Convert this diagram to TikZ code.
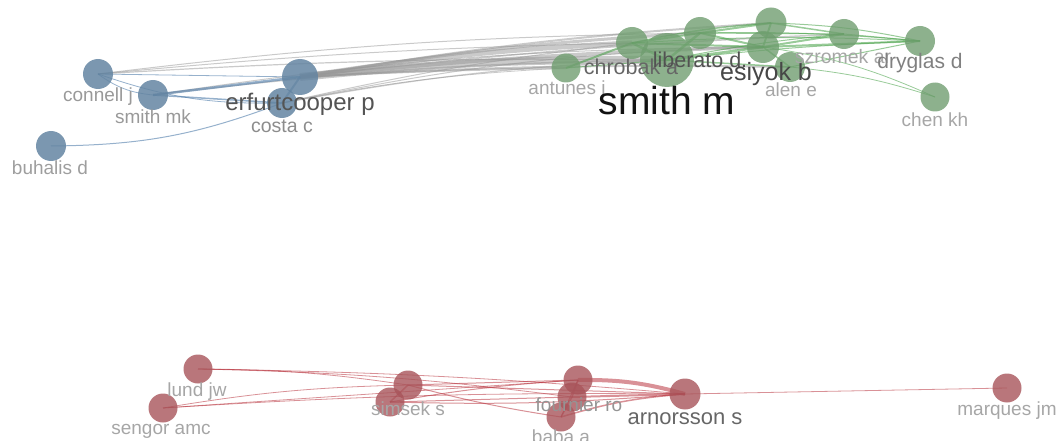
\documentclass[tikz,border=0pt]{standalone}
\usepackage{fontspec}
\setmainfont{Liberation Sans}
\definecolor{bluen}{RGB}{100,133,162}
\definecolor{greenn}{RGB}{112,158,112}
\definecolor{redn}{RGB}{168,84,90}
\definecolor{bluee}{RGB}{80,125,170}
\definecolor{greene}{RGB}{70,160,70}
\definecolor{rede}{RGB}{185,55,65}
\definecolor{graye}{RGB}{150,150,150}
\tikzset{
  bnode/.style={circle, fill=bluen, fill opacity=0.85, draw=none, inner sep=0pt, minimum size=#1},
  gnode/.style={circle, fill=greenn, fill opacity=0.8, draw=none, inner sep=0pt, minimum size=#1},
  rnode/.style={circle, fill=redn, fill opacity=0.8, draw=none, inner sep=0pt, minimum size=#1},
  lab/.style={inner sep=0pt, text=#1},
  ge/.style={draw=graye, draw opacity=0.5, line width=#1},
  gre/.style={draw=greene, draw opacity=0.55, line width=#1},
  re/.style={draw=rede, draw opacity=0.55, line width=#1},
  be/.style={draw=bluee, draw opacity=0.6, line width=#1},
}
\newcommand{\fs}[1]{\fontsize{#1}{#1}\selectfont}
\begin{document}
\begin{tikzpicture}[x=1pt,y=-1pt]
\useasboundingbox (0,0) rectangle (1063,441);
% ---------- node coordinates ----------
\coordinate (conn) at (98,74);
\coordinate (smk) at (153,95);
\coordinate (erf) at (300,77);
\coordinate (cos) at (282,103);
\coordinate (buh) at (51,146);
\coordinate (ant) at (566,68);
\coordinate (chr) at (632,43);
\coordinate (smm) at (667,60);
\coordinate (lib) at (700,33);
\coordinate (g5) at (771,23);
\coordinate (esi) at (763,47);
\coordinate (ale) at (790,67);
\coordinate (szr) at (844,34);
\coordinate (dry) at (920,41);
\coordinate (chen) at (935,97);
\coordinate (lund) at (198,369);
\coordinate (seng) at (163,408);
\coordinate (sim1) at (408,385);
\coordinate (sim2) at (390,402);
\coordinate (fou1) at (578,380);
\coordinate (fou2) at (572,397);
\coordinate (fou3) at (561,417);
\coordinate (arn) at (685,394);
\coordinate (mar) at (1007,388);
% ---------- gray inter-cluster edges ----------
\draw[ge=8] (erf) to[bend left=3] (smm);
\draw[ge=5] (erf) to[bend left=3] (chr);
\draw[ge=3.5] (erf) to[bend left=2] (esi);
\draw[ge=3] (erf) to[bend left=3] (lib);
\draw[ge=2] (erf) to[bend left=2] (ale);
\draw[ge=2] (erf) to[bend left=3] (g5);
\draw[ge=1.5] (erf) to[bend left=2] (szr);
\draw[ge=2] (erf) to[bend left=1] (ant);
\draw[ge=1] (conn) to[bend left=2] (chr);
\draw[ge=1] (conn) to[bend left=3] (lib);
\draw[ge=1.2] (conn) to[bend left=2] (smm);
\draw[ge=1.5] (smk) to[bend left=3] (smm);
\draw[ge=1] (smk) to[bend left=4] (esi);
\draw[ge=1.2] (cos) to[bend left=4] (smm);
\draw[ge=1] (cos) to[bend left=5] (esi);
\draw[ge=0.8] (cos) to[bend left=4] (ant);
\draw[ge=1] (cos) to[bend left=3] (chr);
% ---------- blue edges ----------
\draw[be=0.8] (conn) -- (erf);
\draw[be=0.8] (conn) to[bend right=10] (cos);
\draw[be=0.8] (conn) to[bend right=15] (smk);
\draw[be=2.5] (smk) -- (erf);
\draw[be=1.5] (smk) -- (cos);
\draw[be=2] (cos) -- (erf);
\draw[be=1] (buh) to[bend right=10] (cos);
% ---------- green edges ----------
\draw[gre=2] (ant) -- (chr);
\draw[gre=1] (ant) -- (smm);
\draw[gre=2.5] (chr) -- (smm);
\draw[gre=2] (chr) -- (lib);
\draw[gre=2] (chr) -- (esi);
\draw[gre=1.5] (chr) to[bend left=4] (g5);
\draw[gre=1] (chr) to[bend left=3] (dry);
\draw[gre=2.5] (smm) -- (lib);
\draw[gre=2.5] (smm) -- (esi);
\draw[gre=1.5] (smm) -- (ale);
\draw[gre=1] (smm) to[bend left=3] (szr);
\draw[gre=1] (smm) to[bend left=2] (dry);
\draw[gre=2] (lib) -- (g5);
\draw[gre=2] (lib) -- (esi);
\draw[gre=1] (lib) to[bend left=3] (dry);
\draw[gre=1] (lib) -- (szr);
\draw[gre=2] (g5) -- (esi);
\draw[gre=1.5] (g5) -- (szr);
\draw[gre=1] (g5) to[bend left=5] (dry);
\draw[gre=2] (esi) -- (szr);
\draw[gre=2] (esi) -- (dry);
\draw[gre=1.5] (esi) -- (ale);
\draw[gre=1] (ale) -- (dry);
\draw[gre=1] (szr) -- (dry);
\draw[gre=0.8] (esi) to[bend left=8] (chen);
\draw[gre=0.8] (ale) to[bend left=6] (chen);
% ---------- red edges ----------
\draw[re=0.8] (lund) to[bend left=4] (sim1);
\draw[re=0.8] (lund) to[bend left=3] (fou2);
\draw[re=0.8] (lund) to[bend left=2] (arn);
\draw[re=0.8] (seng) to[bend left=4] (sim1);
\draw[re=0.8] (seng) -- (fou1);
\draw[re=0.8] (seng) to[bend left=2] (arn);
\draw[re=1.5] (sim1) -- (sim2);
\draw[re=1] (sim1) -- (fou1);
\draw[re=1] (sim1) to[bend right=3] (fou3);
\draw[re=1] (sim1) -- (arn);
\draw[re=1] (sim2) to[bend left=3] (fou1);
\draw[re=1] (sim2) -- (fou2);
\draw[re=1] (sim2) to[bend right=3] (arn);
\draw[re=4] (fou1) to[bend left=8] (arn);
\draw[re=2] (fou2) -- (arn);
\draw[re=1.5] (fou3) to[bend left=6] (arn);
\draw[re=1.5] (fou1) -- (fou2);
\draw[re=1.5] (fou2) -- (fou3);
\draw[re=1] (fou1) -- (fou3);
\draw[re=0.8] (arn) -- (mar);
% ---------- nodes ----------
\node[bnode=30] (n-conn) at (conn) {};
\node[bnode=30] (n-smk) at (smk) {};
\node[bnode=36] (n-erf) at (erf) {};
\node[bnode=30] (n-cos) at (cos) {};
\node[bnode=30] (n-buh) at (buh) {};
\node[gnode=29] (n-ant) at (ant) {};
\node[gnode=32] (n-chr) at (chr) {};
\node[gnode=54] (n-smm) at (smm) {};
\node[gnode=32] (n-lib) at (lib) {};
\node[gnode=31] (n-g5) at (g5) {};
\node[gnode=32] (n-esi) at (esi) {};
\node[gnode=30] (n-ale) at (ale) {};
\node[gnode=30] (n-szr) at (szr) {};
\node[gnode=30] (n-dry) at (dry) {};
\node[gnode=29] (n-chen) at (chen) {};
\node[rnode=29] (n-lund) at (lund) {};
\node[rnode=29] (n-seng) at (seng) {};
\node[rnode=29] (n-sim1) at (sim1) {};
\node[rnode=29] (n-sim2) at (sim2) {};
\node[rnode=29] (n-fou1) at (fou1) {};
\node[rnode=29] (n-fou2) at (fou2) {};
\node[rnode=29] (n-fou3) at (fou3) {};
\node[rnode=31] (n-arn) at (arn) {};
\node[rnode=29] (n-mar) at (mar) {};
% ---------- labels ----------
\node[lab={black!40}, font=\fs{19}] (l-conn) at (98,97) {connell j};
\node[lab={black!40}, font=\fs{19}] (l-smk) at (153,117) {smith mk};
\node[lab={black!67}, font=\fs{24}] (l-erf) at (300,104) {erfurtcooper p};
\node[lab={black!45}, font=\fs{19.5}] (l-cos) at (282,126) {costa c};
\node[lab={black!38}, font=\fs{19}] (l-buh) at (50,168) {buhalis d};
\node[lab={black!35}, font=\fs{19}] (l-ant) at (567,90) {antunes j};
\node[lab={black!60}, font=\fs{21.5}] (l-chr) at (631,67) {chrobak a};
\node[lab={black!68}, font=\fs{21.5}] (l-lib) at (700,60) {liberato d.};
\node[lab={black!93}, font=\fs{39}] (l-smm) at (667,101) {smith m};
\node[lab={black!72}, font=\fs{25}] (l-esi) at (766,74) {esiyok b};
\node[lab={black!35}, font=\fs{19}] (l-ale) at (791,90) {alen e};
\node[lab={black!35}, font=\fs{19.5}] (l-szr) at (843,57) {szromek ar};
\node[lab={black!50}, font=\fs{21}] (l-dry) at (920,63) {dryglas d};
\node[lab={black!35}, font=\fs{19}] (l-chen) at (935,120) {chen kh};
\node[lab={black!35}, font=\fs{19}] (l-lund) at (197,392) {lund jw};
\node[lab={black!35}, font=\fs{19}] (l-seng) at (161,431) {sengor amc};
\node[lab={black!35}, font=\fs{19}] (l-sim) at (408,409) {simsek s};
\node[lab={black!42}, font=\fs{19}] (l-fou) at (579,405) {fournier ro};
\node[lab={black!35}, font=\fs{19}] (l-baba) at (561,437) {baba a};
\node[lab={black!60}, font=\fs{22}] (l-arn) at (685,419) {arnorsson s};
\node[lab={black!35}, font=\fs{19}] (l-mar) at (1007,411) {marques jm};
\end{tikzpicture}
\end{document}
